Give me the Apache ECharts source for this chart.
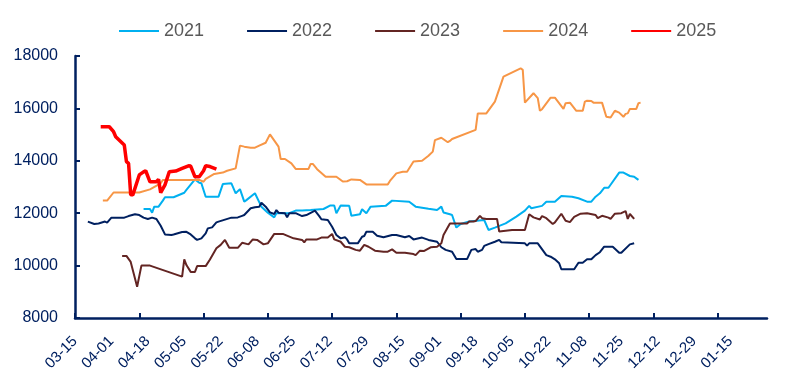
<!DOCTYPE html>
<html><head><meta charset="utf-8">
<script src="https://cdn.jsdelivr.net/npm/echarts@6/dist/echarts.min.js"></script>
<style>html,body{margin:0;padding:0;background:#fff}#c{width:797px;height:383px}</style>
</head><body><div id="c"></div>
<script>
// ---- data ----
const xTickLabels = ['03-15','04-01','04-18','05-05','05-22','06-08','06-25','07-12','07-29','08-15','09-01','09-18','10-05','10-22','11-08','11-25','12-12','12-29','01-15'];
const yTicks = [8000,10000,12000,14000,16000,18000];

const dates21 = ['04-16','04-19','04-20','04-21','04-23','04-25','04-26','04-30','05-05','05-06','05-10','05-12','05-13','05-15','05-21','05-23','05-27','05-29','05-31','06-02','06-03','06-07','06-10','06-13','06-16','06-17','06-23','06-26','06-29','07-03','07-09','07-12','07-14','07-15','07-17','07-21','07-22','07-26','07-27','07-29','07-31','08-07','08-10','08-18','08-21','08-27','08-31','09-02','09-03','09-06','09-07','09-09','09-11','09-15','09-22','09-24','09-27','10-02','10-07','10-11','10-13','10-14','10-19','10-21','10-25','10-28','11-02','11-05','11-09','11-11','11-13','11-15','11-17','11-19','11-24','11-26','11-29','12-01','12-02','12-03'];
const vals21 = [12160,12160,12020,12250,12250,12480,12610,12610,12780,12890,13290,13160,13140,12630,12630,13110,13140,12760,12920,12440,12500,12760,12250,12020,11840,12000,12000,12100,12100,12120,12160,12290,12290,12000,12290,12280,11900,11960,12150,12000,12250,12280,12480,12440,12250,12170,12120,12250,12030,11960,11930,11450,11590,11680,11740,11360,11450,11610,11870,12100,12280,12190,12280,12440,12440,12660,12630,12570,12440,12440,12630,12760,12970,12970,13550,13550,13420,13390,13330,13270];

const dates22 = ['03-21','03-24','03-26','03-29','03-30','04-01','04-07','04-09','04-12','04-14','04-16','04-18','04-20','04-22','04-24','04-26','04-29','04-30','05-04','05-06','05-08','05-10','05-11','05-13','05-15','05-16','05-18','05-20','05-21','05-27','05-30','06-01','06-02','06-05','06-07','06-09','06-10','06-12','06-14','06-16','06-17','06-18','06-21','06-22','06-23','06-26','06-29','07-01','07-05','07-07','07-08','07-11','07-13','07-15','07-17','07-19','07-20','07-21','07-25','07-27','07-28','07-29','08-01','08-03','08-06','08-10','08-12','08-16','08-18','08-20','08-24','08-27','08-31','09-02','09-04','09-07','09-09','09-14','09-16','09-18','09-19','09-21','09-22','09-24','09-27','09-29','09-30','10-11','10-12','10-13','10-17','10-21','10-23','10-25','10-27','10-28','11-03','11-05','11-07','11-09','11-11','11-13','11-15','11-17','11-21','11-24','11-25','11-29','12-01'];
const vals22 = [11680,11590,11610,11680,11640,11830,11830,11890,11960,11930,11830,11780,11830,11780,11520,11190,11170,11190,11280,11290,11190,11040,10980,11040,11230,11420,11460,11650,11680,11830,11840,11900,11930,12190,12230,12250,12400,12250,12030,11970,12120,12020,12000,11840,12000,12000,11890,11930,12100,11890,11770,11740,11480,11170,11040,11080,11000,10850,10850,11100,11130,11290,11290,11140,11080,11170,11170,11080,11130,11000,11070,10980,10910,10700,10600,10530,10250,10250,10600,10630,10530,10600,10750,10820,10910,10980,10890,10850,10760,10850,10850,10400,10340,10240,10090,9860,9860,10110,10110,10240,10240,10400,10510,10720,10720,10490,10490,10810,10850];

const dates23 = ['04-06','04-08','04-10','04-13','04-15','04-19','05-04','05-05','05-06','05-08','05-10','05-11','05-15','05-17','05-20','05-22','05-24','05-26','05-30','06-01','06-04','06-06','06-08','06-11','06-13','06-16','06-20','06-25','06-29','06-30','07-01','07-06','07-08','07-11','07-13','07-14','07-17','07-19','07-21','07-24','07-26','07-28','07-30','08-02','08-06','08-08','08-10','08-12','08-16','08-20','08-21','08-23','08-25','08-28','08-31','09-02','09-03','09-06','09-14','09-15','09-17','09-18','09-20','09-21','09-23','09-28','09-29','10-05','10-11','10-13','10-15','10-18','10-19','10-21','10-24','10-25','10-28','10-30','11-01','11-03','11-06','11-09','11-13','11-14','11-16','11-19','11-20','11-22','11-25','11-27','11-28','11-29','12-01'];
const vals23 = [10370,10370,10140,9190,10000,10000,9580,10240,10020,9760,9760,9980,9980,10230,10660,10790,10980,10680,10680,10870,10810,11000,10980,10810,10850,11210,11210,11040,10980,10890,11000,11000,11070,11070,11210,11000,10910,10720,10700,10600,10570,10790,10720,10570,10530,10530,10620,10490,10490,10440,10400,10570,10560,10700,10720,10850,11170,11610,11610,11680,11680,11700,11900,11810,11780,11780,11300,11360,11360,11960,11840,11760,11890,11810,11590,11650,11980,11710,11660,11860,11980,12000,11930,11810,11900,11830,11780,11980,12000,12080,11780,11970,11780];

const dates24 = ['03-28','03-30','04-02','04-14','04-19','04-24','04-25','05-12','05-14','05-15','05-19','05-23','05-25','05-29','05-31','06-02','06-05','06-07','06-09','06-12','06-14','06-18','06-19','06-21','06-24','06-26','07-02','07-03','07-04','07-06','07-10','07-15','07-18','07-20','07-22','07-26','07-29','08-08','08-09','08-12','08-15','08-17','08-20','08-24','08-27','08-29','08-30','09-02','09-05','09-06','09-07','09-18','09-19','09-23','09-27','10-01','10-09','10-10','10-11','10-15','10-17','10-18','10-19','10-23','10-25','10-29','10-30','11-01','11-04','11-07','11-08','11-09','11-11','11-12','11-16','11-18','11-20','11-22','11-24','11-26','11-27','11-28','11-29','12-02','12-03','12-04'];
const vals24 = [12480,12480,12790,12790,12910,13140,13270,13270,13200,13310,13500,13550,13620,13710,14580,14540,14500,14500,14580,14690,15010,14540,14070,14070,13900,13690,13690,13880,13880,13680,13390,13390,13210,13220,13290,13270,13100,13100,13230,13520,13580,13580,13970,14000,14190,14350,14790,14880,14710,14760,14830,15180,15810,15810,16260,17210,17530,17470,16220,16580,16390,15910,15970,16410,16410,15980,16200,16220,15910,15910,16260,16290,16280,16220,16220,15680,15650,15910,15840,15680,15790,15810,15980,15980,16200,16220];

const dates25 = ['03-27','03-31','04-02','04-03','04-07','04-08','04-09','04-10','04-11','04-14','04-16','04-17','04-19','04-22','04-23','04-24','04-26','04-28','05-01','05-04','05-07','05-08','05-10','05-12','05-14','05-15','05-17','05-20'];
const vals25 = [15300,15300,15110,14920,14600,13970,13900,12700,12700,13460,13580,13620,13200,13200,13290,12780,13080,13580,13610,13710,13810,13800,13390,13390,13620,13810,13780,13680];

// ---- helpers ----
function dayOf(s){
  const p = s.split('-').map(Number);
  const y = p[0] >= 3 ? 2023 : 2024;
  return Math.round((Date.UTC(y, p[0]-1, p[1]) - Date.UTC(2023, 2, 15)) / 864e5);
}
function pairs(ds, vs){ return ds.map((d,i)=>[dayOf(d), vs[i]]); }
const labelDays = xTickLabels.map(dayOf);
const labelByDay = {}; xTickLabels.forEach((l,i)=>labelByDay[labelDays[i]] = l);
const tickDays = []; for (let d = 0; d <= 300; d += 30) tickDays.push(d);

const NAVY = '#002060';
const FONT = '"Liberation Sans", Arial, sans-serif';
const mk = (name, ds, vs, color, w) => ({
  name, type:'line', data: pairs(ds, vs), symbol:'none', showSymbol:false,
  lineStyle:{color, width:w}, itemStyle:{color}, animation:false
});

const chart = echarts.init(document.getElementById('c'), null, {renderer:'canvas'});
chart.setOption({
  animation:false,
  backgroundColor:'#fff',
  textStyle:{fontFamily:FONT},
  grid:{left:75, right:30, top:56, bottom:65, containLabel:false},
  legend:{
    left:118, top:22, itemGap:42, itemWidth:40, itemHeight:14, padding:0,
    itemStyle:{opacity:0, borderWidth:0},
    textStyle:{color:'#595959', fontSize:18, fontFamily:FONT},
    data:['2021','2022','2023','2024','2025']
  },
  xAxis:{
    type:'value', min:0, max:323,
    axisLine:{show:true, lineStyle:{color:NAVY, width:2.5}},
    axisTick:{show:true, inside:true, length:5, customValues:tickDays, lineStyle:{color:NAVY, width:2}},
    axisLabel:{customValues:labelDays, rotate:45, margin:21, color:NAVY, fontSize:15, fontFamily:FONT,
      formatter:v=>labelByDay[Math.round(v)] || ''},
    splitLine:{show:false}
  },
  yAxis:{
    type:'value', min:yTicks[0], max:yTicks[yTicks.length-1], interval:2000,
    axisLine:{show:true, lineStyle:{color:NAVY, width:2.5}},
    axisTick:{show:true, inside:true, length:5, lineStyle:{color:NAVY, width:2}},
    axisLabel:{color:NAVY, fontSize:16, margin:17, fontFamily:FONT, formatter:v=>String(v)},
    splitLine:{show:false}
  },
  series:[
    mk('2021', dates21, vals21, '#00B0F0', 2),
    mk('2022', dates22, vals22, '#002060', 2),
    mk('2023', dates23, vals23, '#632523', 2),
    mk('2024', dates24, vals24, '#F79646', 2),
    mk('2025', dates25, vals25, '#FF0000', 3.5)
  ]
});
</script></body></html>
